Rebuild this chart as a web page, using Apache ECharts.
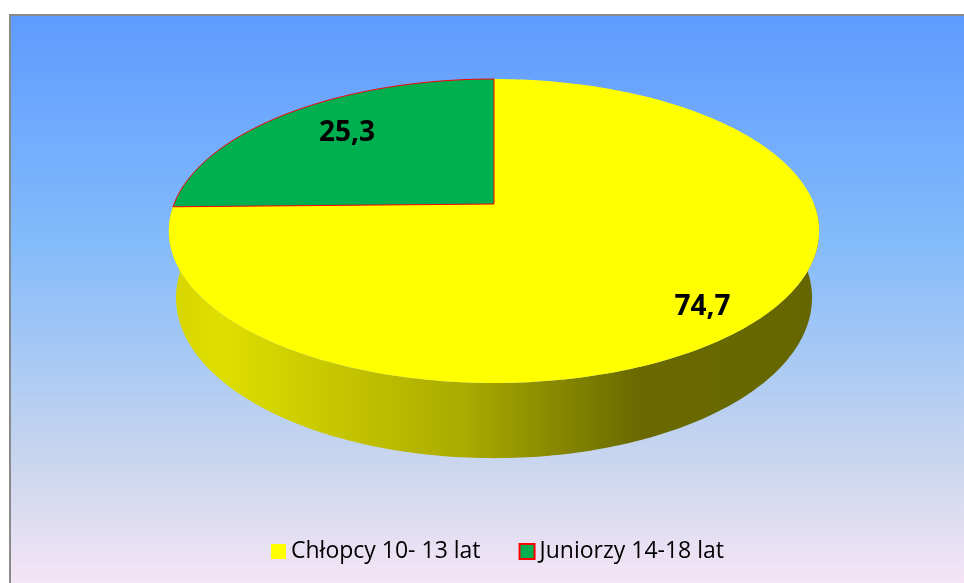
<!DOCTYPE html>
<html>
<head>
<meta charset="utf-8">
<script src="https://cdn.jsdelivr.net/npm/echarts@6/dist/echarts.min.js"></script>
<style>
html,body{margin:0;padding:0;background:#fff;}
#chart{width:964px;height:583px;}
</style>
</head>
<body>
<div id="chart"></div>
<script>
const categories = ['Chłopcy 10- 13 lat', 'Juniorzy 14-18 lat'];
const values = [74.7, 25.3];

const sliceColors = ['#ffff00', '#00b050'];
const sliceBorders = [null, '#ff0000'];
const labelR = [0.82, 0.70];
const labelDy = [9, -5];

// perspective projection of a tilted disc
const CX = 494, CY = 204, F = 1600, DIST = 5, SIN = 0.46, COS = 0.888, H = 0.237;
function proj(X, Y, Z) {
  const depth = DIST + Y * COS - Z * SIN;
  const up = Y * SIN + Z * COS;
  return [CX + F * X / depth, CY - F * up / depth];
}
function rim(deg, z, r) {
  const t = deg * Math.PI / 180;
  r = r == null ? 1 : r;
  return proj(r * Math.cos(t), r * Math.sin(t), z);
}
const total = values.reduce((a, b) => a + b, 0);

function renderSlice(params, api) {
  const i = params.seriesIndex;
  let before = 0;
  for (let k = 0; k < i; k++) before += values[k];
  const v = api.value(0);
  const a0 = 90 - 360 * before / total;
  const a1 = 90 - 360 * (before + v) / total;
  const children = [];
  // side wall (front half only)
  const lo = Math.max(a1, -180), hi = Math.min(a0, 0);
  if (lo < hi) {
    const pts = [];
    const n = Math.max(2, Math.ceil((hi - lo) / 1));
    for (let s = 0; s <= n; s++) pts.push(rim(hi - (hi - lo) * s / n, 0));
    for (let s = n; s >= 0; s--) pts.push(rim(hi - (hi - lo) * s / n, -H));
    children.push({
      type: 'polygon', z2: 1,
      shape: { points: pts },
      style: {
        fill: {
          type: 'linear', x: 171, y: 0, x2: 818, y2: 0, global: true,
          colorStops: [
            { offset: 0, color: '#d6d600' },
            { offset: 0.08, color: '#dede00' },
            { offset: 0.45, color: '#abab00' },
            { offset: 0.72, color: '#6a6a00' },
            { offset: 1, color: '#666600' }
          ]
        }
      }
    });
  }
  // top face
  const top = [proj(0, 0, 0)];
  const n2 = Math.ceil((a0 - a1) / 1);
  for (let s = 0; s <= n2; s++) top.push(rim(a0 - (a0 - a1) * s / n2, 0));
  children.push({
    type: 'polygon', z2: 10,
    shape: { points: top },
    style: sliceBorders[i]
      ? { fill: sliceColors[i], stroke: sliceBorders[i], lineWidth: 1 }
      : { fill: sliceColors[i] }
  });
  // label
  const mid = (a0 + a1) / 2;
  const lp = rim(mid, 0, labelR[i]);
  children.push({
    type: 'text', z2: 30,
    x: lp[0], y: lp[1] + labelDy[i],
    style: {
      text: v.toFixed(1).replace('.', ','),
      fill: '#000',
      font: 'bold 28px "Open Sans"',
      align: 'center',
      verticalAlign: 'middle'
    }
  });
  return { type: 'group', children };
}

const chart = echarts.init(document.getElementById('chart'), null, { renderer: 'canvas' });
chart.setOption({
  animation: false,
  graphic: [{
    type: 'rect', z: 0,
    shape: { x: 10, y: 15, width: 960, height: 575 },
    style: {
      fill: {
        type: 'linear', x: 0, y: 0, x2: 0, y2: 1,
        colorStops: [
          { offset: 0, color: '#5d9bff' },
          { offset: 0.4, color: '#84bbfa' },
          { offset: 0.78, color: '#cad6ee' },
          { offset: 1, color: '#f8e6f6' }
        ]
      },
      stroke: '#8a8a8a',
      lineWidth: 2
    }
  }],
  legend: {
    left: 266, top: 535,
    itemWidth: 15, itemHeight: 15, itemGap: 38,
    icon: 'rect',
    textStyle: { fontFamily: 'Open Sans', fontSize: 23, color: '#000' },
    data: [
      { name: categories[0], itemStyle: { color: sliceColors[0], borderWidth: 0 } },
      { name: categories[1], itemStyle: { color: sliceColors[1], borderColor: '#ff0000', borderWidth: 2 } }
    ]
  },
  series: categories.map((name, i) => ({
    type: 'custom',
    name: name,
    coordinateSystem: 'none',
    silent: true,
    itemStyle: { color: sliceColors[i] },
    renderItem: renderSlice,
    data: [[values[i]]]
  }))
});
</script>
</body>
</html>
